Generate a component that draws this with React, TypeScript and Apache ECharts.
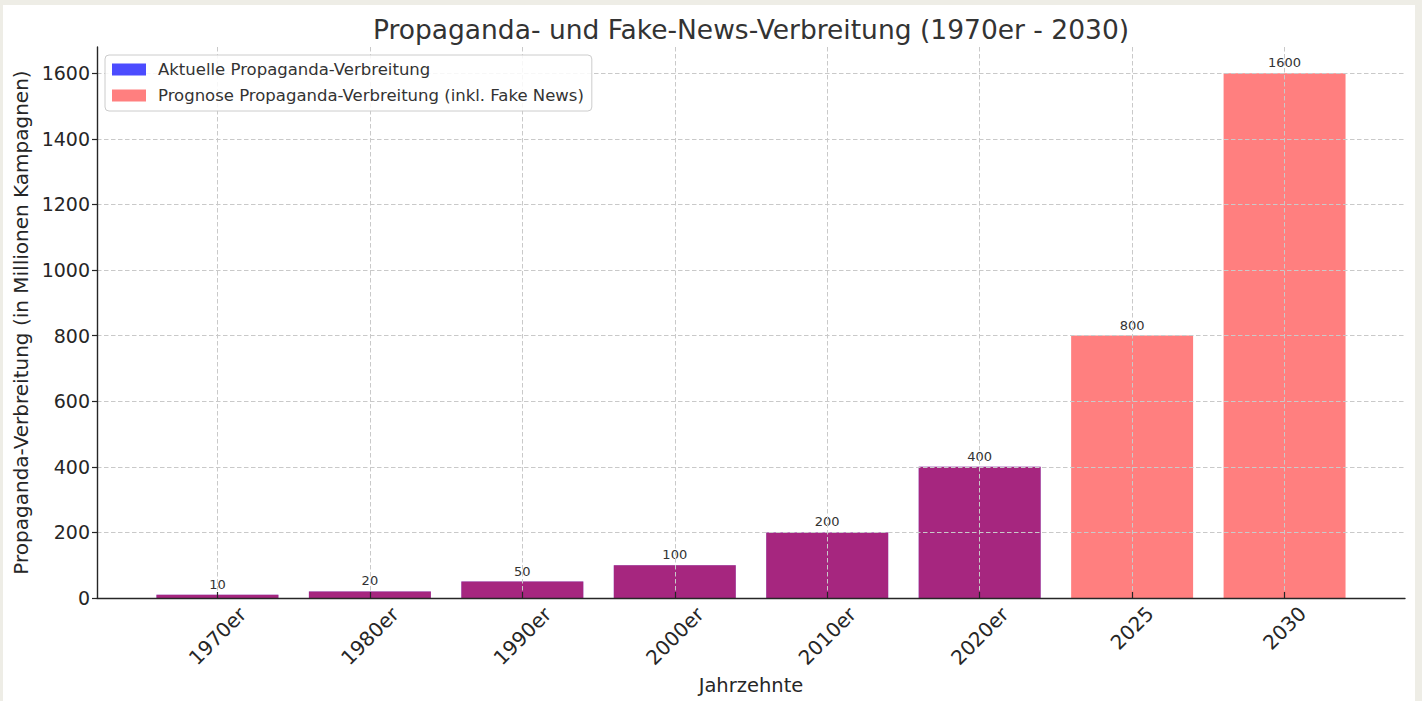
import React, { useEffect, useRef } from "react";
import * as echarts from "echarts";

const categories = ["1970er", "1980er", "1990er", "2000er", "2010er", "2020er", "2025", "2030"];
const currentValues = [10, 20, 50, 100, 200, 400];
const forecastValues = [10, 20, 50, 100, 200, 400, 800, 1600];
const yTicks = [0, 200, 400, 600, 800, 1000, 1200, 1400, 1600];

const titleText = "Propaganda- und Fake-News-Verbreitung (1970er - 2030)";
const seriesNames = [
  "Aktuelle Propaganda-Verbreitung",
  "Prognose Propaganda-Verbreitung (inkl. Fake News)",
];
const xName = "Jahrzehnte";
const yName = "Propaganda-Verbreitung (in Millionen Kampagnen)";

const FONT = "DejaVu Sans";

export default function App() {
  const ref = useRef<HTMLDivElement>(null);

  useEffect(() => {
    document.body.style.margin = "0";
    if (!ref.current) return;
    const chart = echarts.init(ref.current, null, { renderer: "svg" });
    const idx = categories.map((_, i) => i);
    const decadeIdx = idx.filter((i) => categories[i].endsWith("er"));
    const yearIdx = idx.filter((i) => !categories[i].endsWith("er"));
    const gridLine = { show: true, lineStyle: { color: "#c9c9c9", width: 1, type: [4.5, 2.5] } };
    const baseX = {
      type: "value",
      position: "bottom",
      min: -0.79,
      max: categories.length - 1 + 0.79,
      z: 5,
    };
    chart.setOption({
      animation: false,
      backgroundColor: "transparent",
      textStyle: { fontFamily: FONT },
      graphic: [
        {
          type: "text",
          x: 751,
          y: 29,
          style: {
            text: titleText,
            fontFamily: FONT,
            fontSize: 26.5,
            fill: "#333333",
            align: "center",
            verticalAlign: "middle",
          },
        },
      ],
      legend: {
        orient: "vertical",
        left: 105,
        top: 55,
        padding: [6, 8, 7, 7],
        itemGap: 9,
        itemWidth: 34,
        itemHeight: 12,
        borderColor: "#cccccc",
        borderWidth: 1,
        borderRadius: 4,
        backgroundColor: "rgba(255,255,255,0.85)",
        icon: "rect",
        textStyle: { fontFamily: FONT, fontSize: 16.5, color: "#333333", padding: [0, 0, 0, 7] },
        data: seriesNames,
        z: 10,
      },
      grid: {
        left: 97,
        right: 17,
        top: 47,
        bottom: 103,
        containLabel: false,
        outerBoundsMode: "none",
      },
      xAxis: [
        {
          ...baseX,
          name: xName,
          nameLocation: "middle",
          nameGap: 72,
          nameTextStyle: { fontFamily: FONT, fontSize: 19.5, color: "#262626" },
          axisLine: { show: true, onZero: false, lineStyle: { color: "#262626", width: 1.4 } },
          axisTick: { show: true, inside: true, length: 6, customValues: idx, lineStyle: { color: "#262626", width: 1.2 } },
          axisLabel: {
            customValues: decadeIdx,
            formatter: (v: number) => categories[Math.round(v)],
            rotate: 45,
            align: "center",
            verticalAlign: "middle",
            margin: 38,
            fontFamily: FONT,
            fontSize: 20,
            color: "#262626",
          },
          splitLine: gridLine,
        },
        {
          ...baseX,
          axisLine: { show: false, onZero: false },
          axisTick: { show: false },
          splitLine: { show: false },
          axisLabel: {
            customValues: yearIdx,
            formatter: (v: number) => categories[Math.round(v)],
            rotate: 45,
            align: "center",
            verticalAlign: "middle",
            margin: 30,
            fontFamily: FONT,
            fontSize: 20,
            color: "#262626",
          },
        },
      ],
      yAxis: {
        type: "value",
        min: 0,
        max: 1680,
        z: 5,
        name: yName,
        nameLocation: "middle",
        nameGap: 66,
        nameTextStyle: { fontFamily: FONT, fontSize: 20, color: "#262626" },
        axisLine: { show: true, onZero: false, lineStyle: { color: "#262626", width: 1.4 } },
        axisTick: { show: true, inside: false, length: 5, customValues: yTicks, lineStyle: { color: "#262626", width: 1.2 } },
        axisLabel: {
          customValues: yTicks,
          formatter: (v: number) => String(v),
          margin: 7,
          fontFamily: FONT,
          fontSize: 19,
          color: "#262626",
        },
        splitLine: gridLine,
      },
      series: [
        {
          name: seriesNames[0],
          type: "bar",
          xAxisIndex: 0,
          barWidth: "80%",
          barGap: "-100%",
          itemStyle: { color: "rgba(0,0,255,0.7)" },
          data: currentValues.map((v, i) => [i, v]),
          z: 2,
        },
        {
          name: seriesNames[1],
          type: "bar",
          xAxisIndex: 0,
          barWidth: "80%",
          barGap: "-100%",
          itemStyle: { color: "rgba(255,0,0,0.5)" },
          label: {
            show: true,
            position: "top",
            distance: 4,
            fontFamily: FONT,
            fontSize: 13,
            color: "#333333",
            formatter: (p: any) => String(p.value[1]),
          },
          data: forecastValues.map((v, i) => [i, v]),
          z: 3,
        },
      ],
    });
    return () => chart.dispose();
  }, []);

  return (
    <div style={{ position: "relative", width: 1422, height: 701, background: "#eeede6", overflow: "hidden" }}>
      <div style={{ position: "absolute", left: 3, top: 5, width: 1412, height: 696, background: "#ffffff" }} />
      <div ref={ref} style={{ position: "absolute", left: 0, top: 0, width: 1422, height: 701 }} />
    </div>
  );
}
